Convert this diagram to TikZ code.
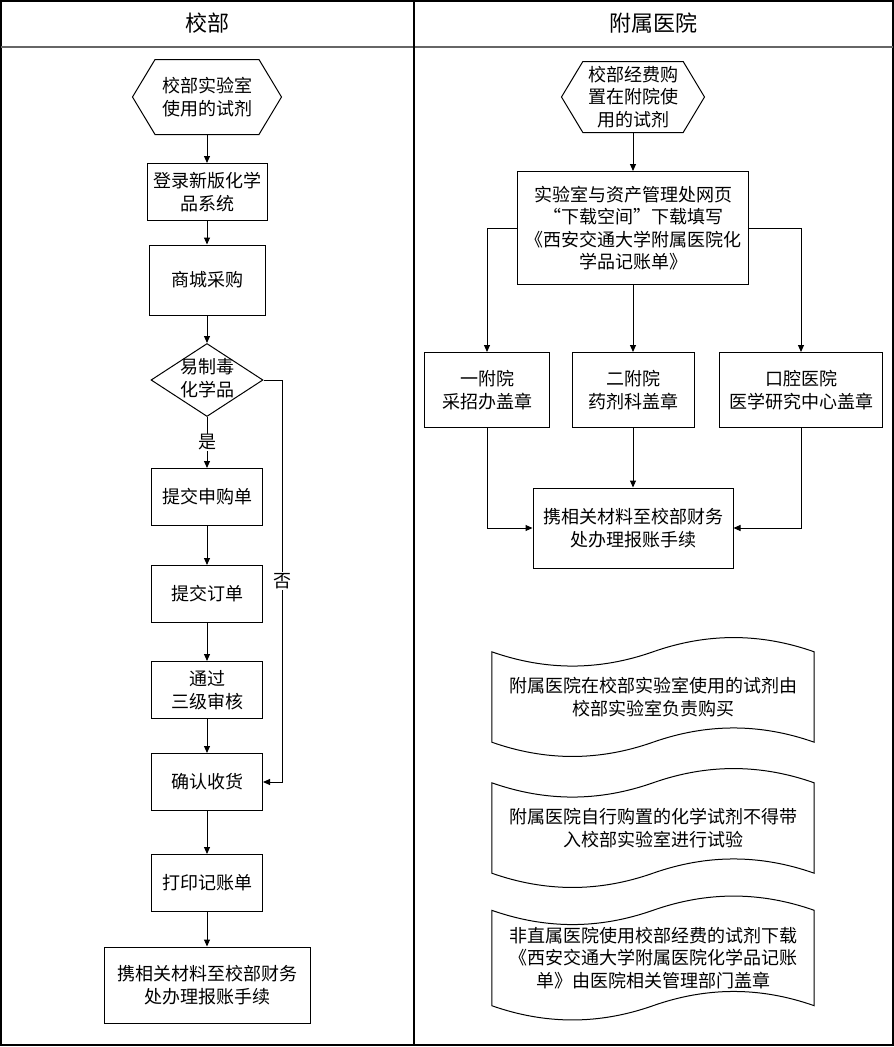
\documentclass[tikz,border=0pt]{standalone}
\usepackage{fontspec}
\setmainfont{Noto Sans CJK SC}
\usepackage{tikz}
\usetikzlibrary{arrows.meta}
\usetikzlibrary{shapes.geometric,shapes.symbols}
\usetikzlibrary{calc,positioning}

\begin{document}
\begin{tikzpicture}[x=1pt, y=-1pt, >={Triangle[length=7pt,width=6pt]},
    every node/.style={font=\fontsize{18}{22.5}\selectfont, align=center, inner sep=2pt},
    box/.style={draw, line width=1pt, minimum width=#1},
    box/.default=111pt,
    hexa/.style={draw, line width=1pt, signal, signal to=west and east, signal pointer angle=118},
    choice/.style={draw, line width=1pt, diamond, minimum width=112pt, minimum height=73pt, inner sep=0pt},
    notice/.style={rectangle, minimum width=322pt, minimum height=90pt},
    line/.style={->, line width=1pt}]

    \useasboundingbox (0,0) rectangle (894,1047);

    % frame and lanes
    \draw[line width=1.5pt] (1,1) rectangle (893,1045);
    \draw[line width=2pt, black!60] (1,47) -- (893,47);
    \draw[line width=1.5pt] (414,1) -- (414,1045);
    \node[font=\fontsize{22}{26}\selectfont] (headL) at (207,23) {校部};
    \node[font=\fontsize{22}{26}\selectfont] (headR) at (653,23) {附属医院};

    % left lane
    \node[hexa, minimum width=149pt, minimum height=75pt] (hexL) at (207,97) {校部实验室\\使用的试剂};
    \node[box=120pt, minimum height=57pt] (login) at (207,192) {登录新版化学\\品系统};
    \node[box=116pt, minimum height=70pt] (shop) at (207,280) {商城采购};
    \node[choice] (toxic) at (207,380) {\smash{\raisebox{-5pt}{\begin{tabular}{@{}c@{}}易制毒\\化学品\end{tabular}}}};
    \node[box, minimum height=57pt] (apply) at (207,497) {提交申购单};
    \node[box, minimum height=57pt] (order) at (207,594) {提交订单};
    \node[box, minimum height=57pt] (audit) at (207,690) {通过\\三级审核};
    \node[box, minimum height=57pt] (confirm) at (207,782) {确认收货};
    \node[box, minimum height=57pt] (print) at (207,883) {打印记账单};
    \node[box=206pt, minimum height=76pt] (finL) at (207,985) {携相关材料至校部财务\\处办理报账手续};

    \draw[line] (hexL) -- (login);
    \draw[line] (login) -- (shop);
    \draw[line] (shop) -- (toxic);
    \draw[line] (toxic) -- node[fill=white, inner sep=1pt] {是} (apply);
    \draw[line] (apply) -- (order);
    \draw[line] (order) -- (audit);
    \draw[line] (audit) -- (confirm);
    \draw[line] (confirm) -- (print);
    \draw[line] (print) -- (finL);
    \draw[line] (toxic.east) -- ++(19,0) |- node[pos=0.25, fill=white, inner sep=1pt] {否} (confirm.east);

    % right lane
    \node[hexa, minimum width=143pt, minimum height=71pt] (hexR) at (633,97) {校部经费购\\置在附院使\\用的试剂};
    \node[box=231pt, minimum height=113pt] (reg) at (633,228) {实验室与资产管理处网页\\“下载空间”下载填写\\《西安交通大学附属医院化\\学品记账单》};
    \node[box=125pt, minimum height=75pt] (h1) at (487,390) {一附院\\采招办盖章};
    \node[box=122pt, minimum height=75pt] (h2) at (633,390) {二附院\\药剂科盖章};
    \node[box=163pt, minimum height=75pt] (h3) at (801,390) {口腔医院\\医学研究中心盖章};
    \node[box=200pt, minimum height=80pt] (finR) at (633,528) {携相关材料至校部财务\\处办理报账手续};

    \draw[line] (hexR) -- (reg);
    \draw[line] (reg) -- (h2);
    \draw[line] (reg.west) -| (h1);
    \draw[line] (reg.east) -| (h3);
    \draw[line] (h1) |- (finR);
    \draw[line] (h2) -- (finR);
    \draw[line] (h3) |- (finR);

    % notes, with wavy top and bottom
    \node[notice] (note1) at (653,697) {附属医院在校部实验室使用的试剂由\\校部实验室负责购买};
    \node[notice] (note2) at (653,828) {附属医院自行购置的化学试剂不得带\\入校部实验室进行试验};
    \node[notice, minimum height=95pt] (note3) at (653,958) {非直属医院使用校部经费的试剂下载\\《西安交通大学附属医院化学品记账\\单》由医院相关管理部门盖章};
    \foreach \n in {note1,note2,note3}
        \draw[line width=1pt] (\n.north west)
            .. controls +(54,19) and +(-54,19) .. (\n.north)
            .. controls +(54,-19) and +(-54,-19) .. (\n.north east)
            -- (\n.south east)
            .. controls +(-54,-19) and +(54,-19) .. (\n.south)
            .. controls +(-54,19) and +(54,19) .. (\n.south west) -- cycle;
\end{tikzpicture}
\end{document}
